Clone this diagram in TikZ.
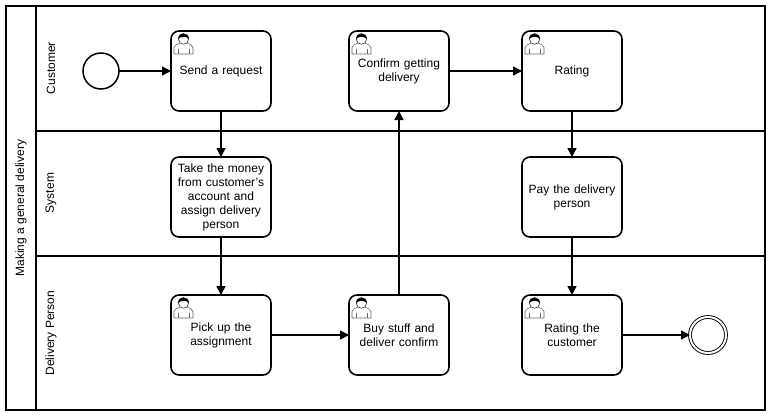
\documentclass[tikz,border=0pt]{standalone}
\usepackage{fontspec}
\setmainfont{Liberation Sans}
\usetikzlibrary{arrows.meta}
\tikzset{
  lane/.style={draw=black,line width=1.6pt,fill=none},
  lanelabel/.style={font=\fontsize{12}{14}\selectfont,rotate=90,anchor=center},
  task/.style={draw=black,line width=1.6pt,rounded corners=8pt,fill=white,minimum width=100pt,minimum height=80pt,inner sep=0pt,outer sep=0pt,align=center,text width=92pt,font=\fontsize{12}{14}\selectfont},
  flow/.style={draw=black,line width=1.6pt,-{Triangle[length=9pt,width=9pt]}},
  startev/.style={circle,draw=black,line width=1.5pt,minimum size=36pt,inner sep=0pt,outer sep=0pt,fill=white},
  endev/.style={circle,draw=black,line width=.9pt,double=white,double distance=2pt,minimum size=36pt,inner sep=0pt,outer sep=0pt,fill=white},
  pics/usericon/.style={code={
    \draw[draw=black!60,line width=.6pt,fill=white,line join=round] (0,21) -- (0,14.5) .. controls (0,12.5) and (3,11.5) .. (6,10) -- (13,10) .. controls (16,11.5) and (19,12.5) .. (19,14.5) -- (19,21) -- cycle;
    \draw[draw=black!60,line width=.5pt] (4,21) -- (4,15.5) (15,21) -- (15,15.5);
    \draw[black!75,line width=.6pt,fill=white] (9.5,6) circle (5.2pt);
    \fill[black] (4.2,6.3) .. controls (3.6,-1.6) and (15.4,-1.6) .. (14.8,6.3) .. controls (13.2,3) and (5.8,3) .. (4.2,6.3) -- cycle;
  }}
}
\begin{document}
\begin{tikzpicture}[x=1pt,y=-1pt]
\useasboundingbox (0,0) rectangle (771,416);
\fill[white] (0,0) rectangle (771,416);
\draw[lane] (6,6) rectangle (765,410);
\draw[lane] (36,6) -- (36,410);
\draw[lane] (36,131) -- (765,131);
\draw[lane] (36,256) -- (765,256);
\node[lanelabel] (pool) at (21,208) {Making a general delivery};
\node[lanelabel] (customer) at (51,68) {Customer};
\node[lanelabel] (system) at (51,193) {System};
\node[lanelabel] (delivery) at (51,333) {Delivery Person};
\node[startev] (start) at (101,71) {};
\node[endev] (end) at (708,335) {};
\node[task] (send) at (221,71) {Send a request};
\node[task] (confirm) at (399,71) {Confirm getting\\delivery};
\node[task] (rating) at (572,71) {Rating};
\node[task] (take) at (221,197) {Take the money\\from customer's\\account and\\assign delivery\\person};
\node[task] (pay) at (572,197) {Pay the delivery\\person};
\node[task] (pick) at (221,335) {Pick up the\\assignment};
\node[task] (buy) at (399,335) {Buy stuff and\\deliver confirm};
\node[task] (ratec) at (572,335) {Rating the\\customer};
\foreach \n in {send,confirm,rating,pick,buy,ratec}
  \pic[shift={([shift={(3,2)}]\n.north west)}] {usericon};
\draw[flow] (start) -- (send);
\draw[flow] (send) -- (take);
\draw[flow] (take) -- (pick);
\draw[flow] (pick) -- (buy);
\draw[flow] (buy) -- (confirm);
\draw[flow] (confirm) -- (rating);
\draw[flow] (rating) -- (pay);
\draw[flow] (pay) -- (ratec);
\draw[flow] (ratec) -- (end);
\end{tikzpicture}
\end{document}
